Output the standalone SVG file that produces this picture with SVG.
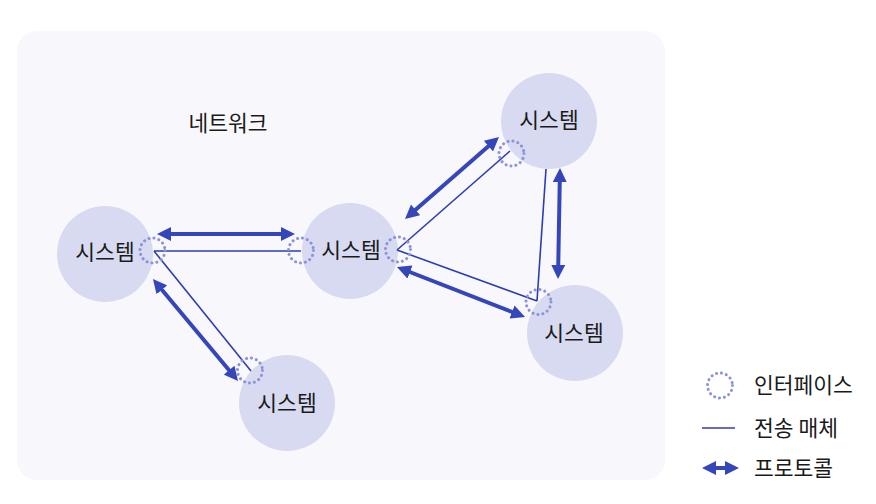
<svg xmlns="http://www.w3.org/2000/svg" width="876" height="504" viewBox="0 0 876 504">
<defs>
<style>
.panel{fill:#f8f8fc}
.node{fill:#d7daf0}
.iface{fill:none;stroke:#8c94d8;stroke-width:3;stroke-dasharray:0.1 4.9;stroke-linecap:round}
.medium{fill:none;stroke:#2c3db3;stroke-width:1.6}
.proto{fill:none;stroke:#3546ba;stroke-width:4;marker-start:url(#ah);marker-end:url(#ah)}
.lbl{font-family:"Noto Sans CJK KR","Noto Sans",sans-serif;font-size:21.5px;fill:#1a1a1a}
.c{text-anchor:middle}
</style>
<marker id="ah" viewBox="0 0 14 14" markerWidth="14" markerHeight="14" markerUnits="userSpaceOnUse" refX="3" refY="7" orient="auto-start-reverse">
<path d="M0,0 L14,7 L0,14 Z" fill="#3546ba"/>
</marker>
</defs>
<rect class="panel" x="17" y="31" width="648" height="449" rx="20"/>
<text class="lbl c" x="228" y="131">네트워크</text>

<g id="node-left">
<circle class="node" cx="105" cy="254" r="48"/>
<text class="lbl c" x="105" y="259.5">시스템</text>
</g>
<g id="node-middle">
<circle class="node" cx="350" cy="251" r="48"/>
<text class="lbl c" x="351" y="257.5">시스템</text>
</g>
<g id="node-top-right">
<circle class="node" cx="549" cy="121" r="48"/>
<text class="lbl c" x="549" y="127.5">시스템</text>
</g>
<g id="node-bottom-right">
<circle class="node" cx="575" cy="333" r="48"/>
<text class="lbl c" x="574" y="340.5">시스템</text>
</g>
<g id="node-bottom">
<circle class="node" cx="287" cy="403" r="48"/>
<text class="lbl c" x="287" y="410.5">시스템</text>
</g>

<g id="connectors">
<line class="medium" x1="154" y1="251" x2="301" y2="251"/>
<line class="medium" x1="154" y1="251" x2="251" y2="371"/>
<line class="medium" x1="397" y1="250" x2="510" y2="151"/>
<line class="medium" x1="397" y1="250" x2="537" y2="301"/>
<line class="medium" x1="546" y1="169" x2="537" y2="301"/>
<line class="proto" x1="168" y1="234" x2="284" y2="234"/>
<line class="proto" x1="160" y1="287.5" x2="231" y2="372.5"/>
<line class="proto" x1="413.3" y1="211.8" x2="490.7" y2="144.2"/>
<line class="proto" x1="407.2" y1="271" x2="514.8" y2="313"/>
<line class="proto" x1="559.8" y1="179" x2="558.2" y2="268"/>
</g>

<g id="interfaces">
<circle class="iface" cx="152.5" cy="250.5" r="12.5"/>
<circle class="iface" cx="301" cy="250.5" r="12.5"/>
<circle class="iface" cx="398" cy="249.5" r="12.5"/>
<circle class="iface" cx="511.5" cy="153.5" r="12.5"/>
<circle class="iface" cx="538.5" cy="302" r="12.5"/>
<circle class="iface" cx="250" cy="370.5" r="12.5"/>
</g>

<g id="legend">
<circle class="iface" cx="720" cy="385.5" r="12.5"/>
<text class="lbl" x="754" y="393">인터페이스</text>
<line class="medium" x1="702" y1="428" x2="735" y2="428"/>
<text class="lbl" x="754" y="436">전송 매체</text>
<line class="proto" x1="713" y1="468" x2="728" y2="468"/>
<text class="lbl" x="754" y="476">프로토콜</text>
</g>
</svg>
